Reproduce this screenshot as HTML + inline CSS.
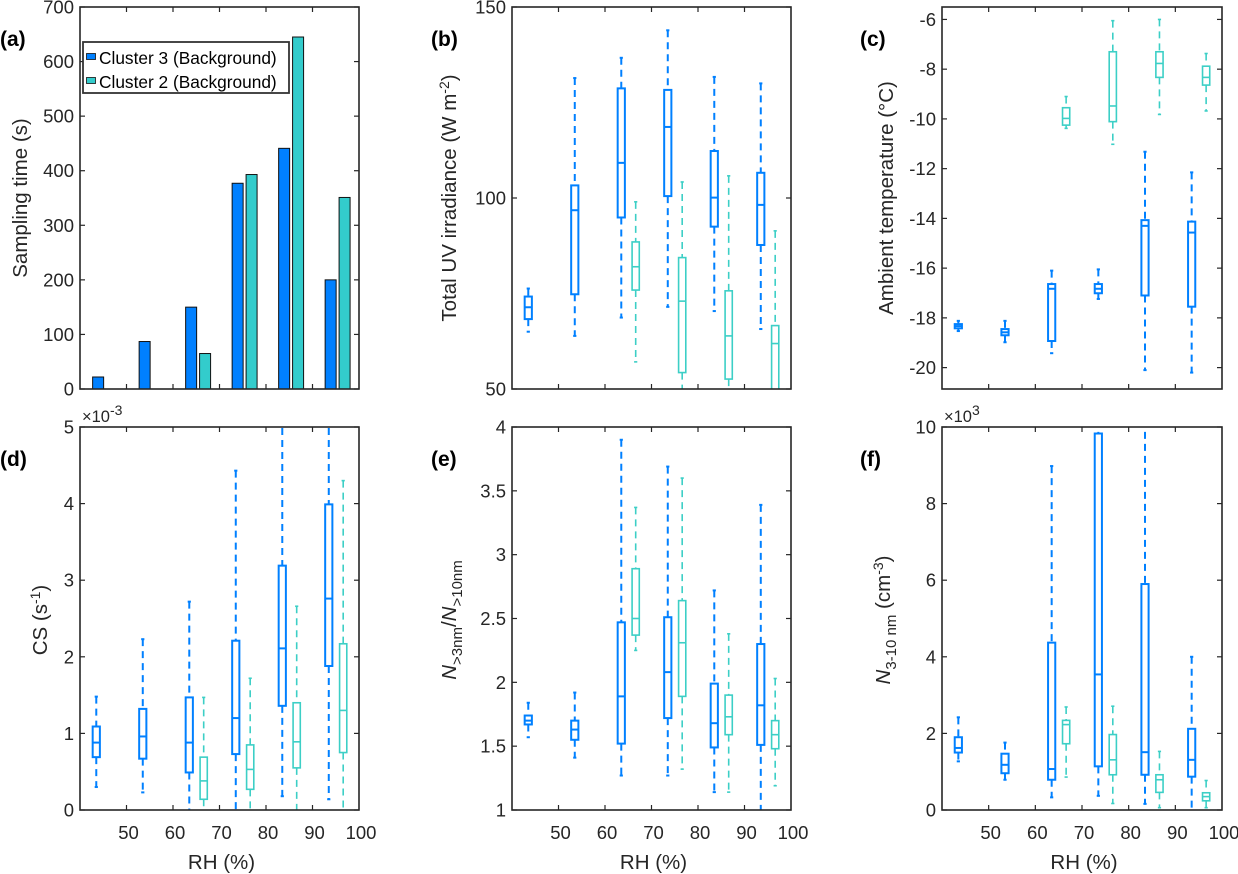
<!DOCTYPE html>
<html><head><meta charset="utf-8"><style>
html,body{margin:0;padding:0;background:#fff;}
svg{display:block;font-family:"Liberation Sans",Arial,sans-serif;}
</style></head><body>
<svg id="fig" width="1238" height="874" viewBox="0 0 1238 874" xmlns="http://www.w3.org/2000/svg"></svg>
<script>
// ---------- data ----------
const blueRH=[43.5,53.5,63.5,73.5,83.5,93.5];
const cyanRH=[66.6,76.6,86.6,96.6];
const barBlueRH=[43.9,53.9,63.9,73.9,83.9,93.9];
const barCyanRH=[66.9,76.9,86.9,96.9];
const blueTime=[22,87,150,377,441,200];
const cyanTime=[65,393,645,351];

// (b) UV irradiance
const uvBlueLo=[65,63.9,68.7,71.5,70.4,65.7];
const uvBlueQ1=[68.3,74.8,94.9,100.5,92.5,87.7];
const uvBlueMed=[71.4,96.8,109.2,118.6,100.1,98.2];
const uvBlueQ3=[74.2,103.3,128.7,128.3,112.3,106.6];
const uvBlueHi=[76.3,131.4,136.7,143.9,131.7,130];
const uvCyanLo=[57.1,40,40,40];
const uvCyanQ1=[75.9,54.3,52.6,45];
const uvCyanMed=[82,73,63.9,61.9];
const uvCyanQ3=[88.5,84.4,75.7,66.6];
const uvCyanHi=[99,104.2,105.8,91.4];

// (c) temperature
const tBlueLo=[-18.53,-18.98,-19.42,-17.24,-20.1,-20.2];
const tBlueQ1=[-18.42,-18.7,-18.93,-17.01,-17.1,-17.55];
const tBlueMed=[-18.33,-18.58,-16.83,-16.83,-14.3,-14.57];
const tBlueQ3=[-18.25,-18.45,-16.64,-16.64,-14.07,-14.13];
const tBlueHi=[-18.12,-18.12,-16.1,-16.05,-11.32,-12.15];
const tCyanLo=[-10.38,-11.02,-9.82,-9.68];
const tCyanQ1=[-10.25,-10.11,-8.33,-8.64];
const tCyanMed=[-9.98,-9.48,-7.77,-8.33];
const tCyanQ3=[-9.55,-7.3,-7.3,-7.88];
const tCyanHi=[-9.1,-6.05,-6,-7.37];

// (d) CS (x1e-3)
const csBlueLo=[0.30,0.23,-0.2,-0.2,0.18,0.14];
const csBlueQ1=[0.69,0.67,0.49,0.73,1.36,1.88];
const csBlueMed=[0.88,0.96,0.88,1.2,2.11,2.76];
const csBlueQ3=[1.09,1.32,1.47,2.21,3.19,3.99];
const csBlueHi=[1.48,2.23,2.72,4.43,5.3,5.3];
const csCyanLo=[-0.2,-0.2,-0.2,-0.2];
const csCyanQ1=[0.14,0.27,0.55,0.75];
const csCyanMed=[0.38,0.53,0.89,1.3];
const csCyanQ3=[0.69,0.85,1.4,2.17];
const csCyanHi=[1.47,1.72,2.66,4.3];

// (e) ratio
const rBlueLo=[1.57,1.41,1.27,1.27,1.14,0.95];
const rBlueQ1=[1.67,1.55,1.52,1.72,1.49,1.51];
const rBlueMed=[1.70,1.63,1.89,2.08,1.68,1.82];
const rBlueQ3=[1.74,1.70,2.47,2.51,1.99,2.3];
const rBlueHi=[1.84,1.92,3.9,3.69,2.72,3.39];
const rCyanLo=[2.25,1.32,1.14,1.19];
const rCyanQ1=[2.37,1.89,1.59,1.48];
const rCyanMed=[2.5,2.31,1.73,1.59];
const rCyanQ3=[2.89,2.64,1.9,1.70];
const rCyanHi=[3.37,3.6,2.38,2.03];

// (f) N3-10 (x1e3)
const nBlueLo=[1.27,0.79,0.33,0.37,0.16,-0.2];
const nBlueQ1=[1.5,0.96,0.79,1.14,0.92,0.87];
const nBlueMed=[1.62,1.18,1.07,3.54,1.51,1.31];
const nBlueQ3=[1.9,1.47,4.37,9.83,5.9,2.12];
const nBlueHi=[2.42,1.76,8.98,10.5,10.5,4.0];
const nCyanLo=[0.86,0.17,0.06,0.06];
const nCyanQ1=[1.73,0.92,0.46,0.24];
const nCyanMed=[2.23,1.31,0.79,0.35];
const nCyanQ3=[2.34,1.97,0.92,0.45];
const nCyanHi=[2.69,2.71,1.53,0.77];

// ---------- drawing ----------
const NS="http://www.w3.org/2000/svg";
const svg=document.getElementById('fig');
const AX='#262626', BLUE='#0080ff', CYAN='#33cccc', CYANL='#3ccfc6';
const TICKFS=18.5, TITLEFS=20.5;
function mk(tag,attrs,parent){const e=document.createElementNS(NS,tag);for(const k in attrs)e.setAttribute(k,attrs[k]);(parent||svg).appendChild(e);return e;}

const panels={
 a:{L:80,R:359,T:7,B:389,ymin:0,ymax:700},
 b:{L:512,R:791,T:7,B:389,ymin:50,ymax:150},
 c:{L:942,R:1222,T:7,B:389,ymin:-20.86,ymax:-5.5},
 d:{L:80,R:359,T:427,B:810,ymin:0,ymax:5},
 e:{L:512,R:791,T:427,B:810,ymin:1,ymax:4},
 f:{L:942,R:1222,T:427,B:810,ymin:0,ymax:10}
};
function xs(p,v){return p.L+(v-40)/60*(p.R-p.L);}
function ys(p,v){return p.B-(v-p.ymin)/(p.ymax-p.ymin)*(p.B-p.T);}

function clipFor(id,p){
 const defs=svg.querySelector('defs')||mk('defs',{});
 const cp=mk('clipPath',{id:'clip-'+id},defs);
 mk('rect',{x:p.L,y:p.T,width:p.R-p.L,height:p.B-p.T},cp);
 const g=mk('g',{'clip-path':'url(#clip-'+id+')'});
 return g;
}

function boxes(p,g,pos,lo,q1,med,q3,hi,color,sw,name){
 const hw=3.6;
 for(let i=0;i<pos.length;i++){
  const x=xs(p,pos[i]);
  const bg=mk('g',{},g);
  
  
  mk('line',{x1:x,x2:x,y1:ys(p,hi[i]),y2:ys(p,q3[i]),stroke:color,'stroke-width':sw,'stroke-dasharray':'7,5'},bg);
  mk('line',{x1:x,x2:x,y1:ys(p,q1[i]),y2:ys(p,lo[i]),stroke:color,'stroke-width':sw,'stroke-dasharray':'7,5'},bg);
  mk('line',{x1:x-1.6,x2:x+1.6,y1:ys(p,hi[i]),y2:ys(p,hi[i]),stroke:color,'stroke-width':sw},bg);
  mk('line',{x1:x-1.6,x2:x+1.6,y1:ys(p,lo[i]),y2:ys(p,lo[i]),stroke:color,'stroke-width':sw},bg);
  mk('rect',{x:x-hw,y:ys(p,q3[i]),width:2*hw,height:Math.max(0.5,ys(p,q1[i])-ys(p,q3[i])),fill:'none',stroke:color,'stroke-width':sw},bg);
  mk('line',{x1:x-hw,x2:x+hw,y1:ys(p,med[i]),y2:ys(p,med[i]),stroke:color,'stroke-width':sw},bg);
 }
}

function axes(id,p,yt,ytl,xlabels){
 const g=mk('g',{});
 
 
 mk('rect',{x:p.L,y:p.T,width:p.R-p.L,height:p.B-p.T,fill:'none',stroke:AX,'stroke-width':1.6},g);
 yt.forEach((v,i)=>{
  const y=ys(p,v);
  mk('line',{x1:p.L,x2:p.L+5,y1:y,y2:y,stroke:AX,'stroke-width':1.2},g);
  mk('line',{x1:p.R,x2:p.R-5,y1:y,y2:y,stroke:AX,'stroke-width':1.2},g);
  const t=mk('text',{x:p.L-6,y:y+6.5,'text-anchor':'end','font-size':TICKFS,fill:AX},g);
  t.textContent=ytl[i];
  
  
 });
 [50,60,70,80,90].forEach(v=>{
  const x=xs(p,v);
  mk('line',{x1:x,x2:x,y1:p.B,y2:p.B-5,stroke:AX,'stroke-width':1.2},g);
  mk('line',{x1:x,x2:x,y1:p.T,y2:p.T+5,stroke:AX,'stroke-width':1.2},g);
 });
 if(xlabels){
  [50,60,70,80,90,100].forEach(v=>{
   const t=mk('text',{x:xs(p,v)+2,y:p.B+29,'text-anchor':'middle','font-size':TICKFS,fill:AX},g);
   t.textContent=String(v);
   
   
  });
  const xl=mk('text',{x:(p.L+p.R)/2+2,y:p.B+59,'text-anchor':'middle','font-size':TITLEFS,fill:AX},g);
  xl.textContent='RH (%)';
  
  
 }
}
function panelLabel(txt,x,y){
 const t=mk('text',{x:x,y:y,'font-size':21,'font-weight':'bold',fill:'#000'});
 t.textContent=txt;
 
 
}
function ylabel(html,cx,cy){
 const t=mk('text',{x:0,y:0,'text-anchor':'middle','font-size':TITLEFS,fill:AX,transform:'translate('+cx+','+cy+') rotate(-90)'});
 t.innerHTML=html;
 
 
 return t;
}

// (a) bars
(function(){
 const p=panels.a;const g=clipFor('a',p);
 const bw=11;
 blueTime.forEach((v,i)=>{
  const r=mk('rect',{x:xs(p,barBlueRH[i])-bw/2,y:ys(p,v),width:bw,height:ys(p,0)-ys(p,v),fill:BLUE,stroke:'#111','stroke-width':1},g);
  
  
 });
 cyanTime.forEach((v,i)=>{
  const r=mk('rect',{x:xs(p,barCyanRH[i])-bw/2,y:ys(p,v),width:bw,height:ys(p,0)-ys(p,v),fill:CYAN,stroke:'#111','stroke-width':1},g);
  
  
 });
 axes('a',p,[0,100,200,300,400,500,600,700],['0','100','200','300','400','500','600','700'],false);
 const lg=mk('g',{});
 
 
 mk('rect',{x:83,y:42,width:206,height:51,fill:'#fff',stroke:'#333','stroke-width':1.8},lg);
 mk('rect',{x:86.5,y:53.5,width:9,height:6,fill:BLUE,stroke:'#111','stroke-width':0.8},lg);
 mk('rect',{x:86.5,y:77.5,width:9,height:6,fill:CYAN,stroke:'#111','stroke-width':0.8},lg);
 const t1=mk('text',{x:99,y:64,'font-size':17.3,fill:'#000'},lg);t1.textContent='Cluster 3 (Background)';
 
 
 const t2=mk('text',{x:99,y:88,'font-size':17.3,fill:'#000'},lg);t2.textContent='Cluster 2 (Background)';
 
 
 ylabel('Sampling time (s)',27,198);
 panelLabel('(a)',0,46);
})();

// (b)
(function(){
 const p=panels.b;const g=clipFor('b',p);
 boxes(p,g,blueRH,uvBlueLo,uvBlueQ1,uvBlueMed,uvBlueQ3,uvBlueHi,BLUE,2,'uv-cluster3');
 boxes(p,g,cyanRH,uvCyanLo,uvCyanQ1,uvCyanMed,uvCyanQ3,uvCyanHi,CYANL,1.6,'uv-cluster2');
 axes('b',p,[50,100,150],['50','100','150'],false);
 ylabel('Total UV irradiance (W m<tspan dy="-7" font-size="14">-2</tspan><tspan dy="7">)</tspan>',456,198);
 panelLabel('(b)',431,46);
})();

// (c)
(function(){
 const p=panels.c;const g=clipFor('c',p);
 boxes(p,g,blueRH,tBlueLo,tBlueQ1,tBlueMed,tBlueQ3,tBlueHi,BLUE,2,'temp-cluster3');
 boxes(p,g,cyanRH,tCyanLo,tCyanQ1,tCyanMed,tCyanQ3,tCyanHi,CYANL,1.6,'temp-cluster2');
 const tv=[-20,-18,-16,-14,-12,-10,-8,-6];
 axes('c',p,tv,tv.map(String),false);
 ylabel('Ambient temperature (°C)',893,198);
 panelLabel('(c)',860,46);
})();

// (d)
(function(){
 const p=panels.d;const g=clipFor('d',p);
 boxes(p,g,blueRH,csBlueLo,csBlueQ1,csBlueMed,csBlueQ3,csBlueHi,BLUE,2,'cs-cluster3');
 boxes(p,g,cyanRH,csCyanLo,csCyanQ1,csCyanMed,csCyanQ3,csCyanHi,CYANL,1.6,'cs-cluster2');
 axes('d',p,[0,1,2,3,4,5],['0','1','2','3','4','5'],true);
 ylabel('CS (s<tspan dy="-7" font-size="14">-1</tspan><tspan dy="7">)</tspan>',47,620);
 panelLabel('(d)',0,466);
 const e=mk('text',{x:82,y:422,'font-size':16.5,fill:AX});
 e.innerHTML='×10<tspan dy="-7" font-size="14">-3</tspan>';
 
 
})();

// (e)
(function(){
 const p=panels.e;const g=clipFor('e',p);
 boxes(p,g,blueRH,rBlueLo,rBlueQ1,rBlueMed,rBlueQ3,rBlueHi,BLUE,2,'ratio-cluster3');
 boxes(p,g,cyanRH,rCyanLo,rCyanQ1,rCyanMed,rCyanQ3,rCyanHi,CYANL,1.6,'ratio-cluster2');
 const tv=[1,1.5,2,2.5,3,3.5,4];
 axes('e',p,tv,['1','1.5','2','2.5','3','3.5','4'],true);
 ylabel('<tspan font-style="italic">N</tspan><tspan dy="6" font-size="15">&gt;3nm</tspan><tspan dy="-6">/</tspan><tspan font-style="italic">N</tspan><tspan dy="6" font-size="15">&gt;10nm</tspan>',456,620);
 panelLabel('(e)',431,466);
})();

// (f)
(function(){
 const p=panels.f;const g=clipFor('f',p);
 boxes(p,g,blueRH,nBlueLo,nBlueQ1,nBlueMed,nBlueQ3,nBlueHi,BLUE,2,'n310-cluster3');
 boxes(p,g,cyanRH,nCyanLo,nCyanQ1,nCyanMed,nCyanQ3,nCyanHi,CYANL,1.6,'n310-cluster2');
 axes('f',p,[0,2,4,6,8,10],['0','2','4','6','8','10'],true);
 ylabel('<tspan font-style="italic">N</tspan><tspan dy="6" font-size="15">3-10 nm</tspan><tspan dy="-6"> (cm</tspan><tspan dy="-7" font-size="14">-3</tspan><tspan dy="7">)</tspan>',890,620);
 panelLabel('(f)',860,466);
 const e=mk('text',{x:944,y:422,'font-size':16.5,fill:AX});
 e.innerHTML='×10<tspan dy="-7" font-size="14">3</tspan>';
 
 
})();
</script>
</body></html>
